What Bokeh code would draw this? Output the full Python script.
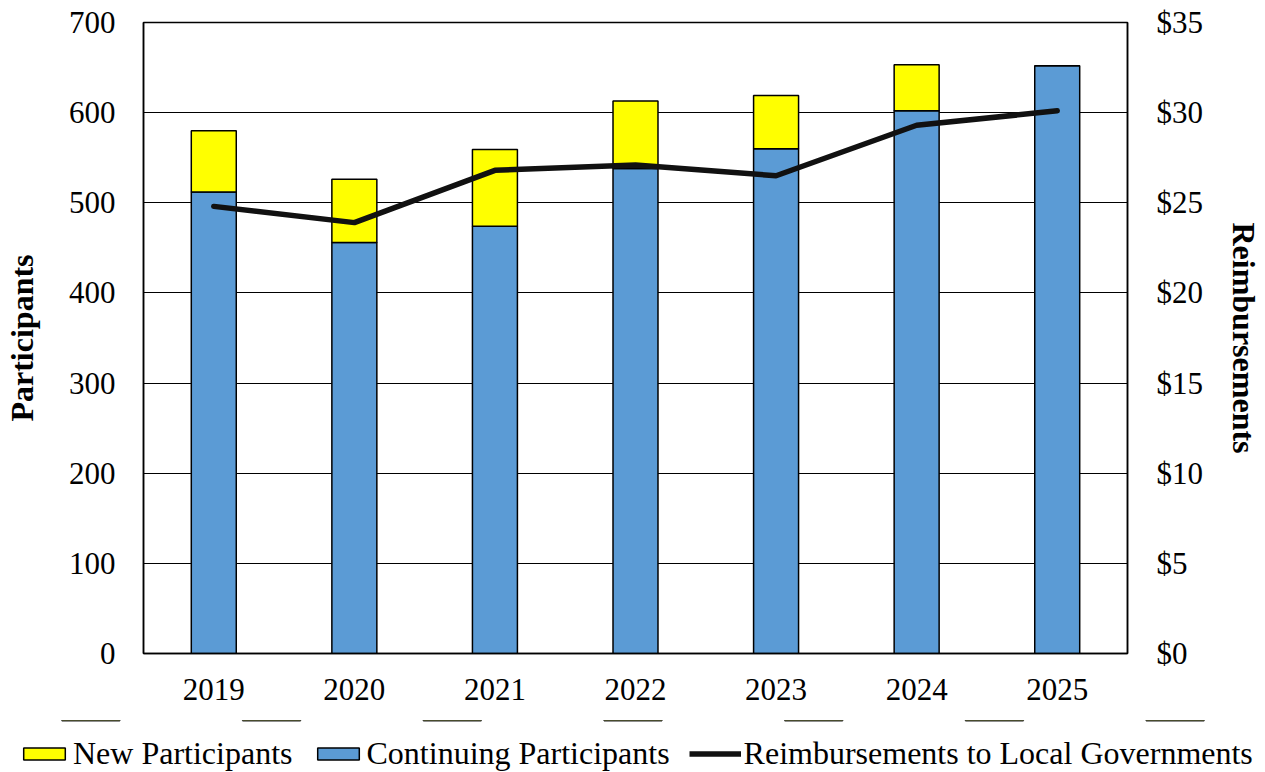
from bokeh.plotting import figure
from bokeh.models import (ColumnDataSource, FactorRange, Range1d, LinearAxis,
                          FixedTicker, PrintfTickFormatter, Legend, LegendItem)
from bokeh.embed import file_html
from bokeh.resources import INLINE

years = ["2019", "2020", "2021", "2022", "2023", "2024", "2025"]
continuing = [512, 456, 474, 538, 560, 602, 652]
new = [68, 70, 85, 75, 59, 51, 0]
reimbursements = [24.8, 23.9, 26.8, 27.1, 26.5, 29.3, 30.1]

left_ticks = [0, 100, 200, 300, 400, 500, 600, 700]
right_ticks = [0, 5, 10, 15, 20, 25, 30, 35]

series_names = ["New Participants", "Continuing Participants",
                "Reimbursements to Local Governments"]

FONT = "Liberation Serif"
BLUE = "#5B9BD5"
YELLOW = "#FFFF00"
LINE = "#111111"

src = ColumnDataSource(dict(years=years, continuing=continuing, new=new,
                            reimb=reimbursements))

p = figure(width=1265, height=720, x_range=FactorRange(*years, range_padding=0),
           y_range=Range1d(0, 700), output_backend="svg", toolbar_location=None,
           min_border_left=143, min_border_right=138, min_border_top=22,
           min_border_bottom=67)
p.extra_y_ranges = {"dollars": Range1d(0, 35)}

bars = p.vbar_stack(["continuing", "new"], x="years", width=0.32, source=src,
                    fill_color=[BLUE, YELLOW], line_color="black",
                    line_width=1.5)
line = p.line(x="years", y="reimb", source=src, y_range_name="dollars",
              line_color=LINE, line_width=5.5, line_cap="round",
              line_join="round")

# Axes
p.yaxis.ticker = FixedTicker(ticks=left_ticks)
p.yaxis.axis_label = "Participants"
ly = p.yaxis[0]
ly.major_tick_out = 0
ly.major_tick_in = 0
ly.minor_tick_out = 0
ly.minor_tick_in = 0
ly.major_label_standoff = 28
ly.axis_label_standoff = 26

right = LinearAxis(y_range_name="dollars", ticker=FixedTicker(ticks=right_ticks),
                   formatter=PrintfTickFormatter(format="$%d"),
                   axis_label="Reimbursements")
right.major_tick_out = 0
right.major_tick_in = 0
right.minor_tick_out = 0
right.minor_tick_in = 0
right.major_label_standoff = 29
right.axis_label_standoff = 20
p.add_layout(right, "right")

p.xaxis.major_tick_out = 0
p.xaxis.major_tick_in = 0
p.xaxis.major_label_standoff = 25

for ax in p.axis:
    ax.axis_line_color = "black"
    ax.axis_line_width = 1.5
    ax.major_label_text_font = FONT
    ax.major_label_text_font_size = "31px"
    ax.major_label_text_color = "black"
    ax.axis_label_text_font = FONT
    ax.axis_label_text_font_size = "32px"
    ax.axis_label_text_font_style = "bold"
    ax.axis_label_text_color = "black"

p.xgrid.grid_line_color = None
p.ygrid.grid_line_color = "black"
p.ygrid.grid_line_width = 1.2
p.ygrid.ticker = FixedTicker(ticks=left_ticks)
p.outline_line_color = "black"
p.outline_line_width = 1.5

# Legend strip below the chart (separate root, no frame alignment);
# its glyphs use the same data but lie far outside its visible range.
lg = figure(width=1265, height=52, output_backend="svg", toolbar_location=None,
            min_border=0, x_axis_type=None, y_axis_type=None,
            x_range=FactorRange(*years), y_range=Range1d(-5000, -4999))
lg.grid.visible = False
lg.outline_line_color = None
lg_bars = lg.vbar_stack(["continuing", "new"], x="years", width=0.32, source=src,
                        fill_color=[BLUE, YELLOW], line_color="black",
                        line_width=1.5)
lg_line = lg.line(x="years", y="reimb", source=src, line_color=LINE,
                  line_width=5.5)

legend = Legend(items=[
    LegendItem(label=series_names[0], renderers=[lg_bars[1]]),
    LegendItem(label=series_names[1], renderers=[lg_bars[0]]),
    LegendItem(label=series_names[2], renderers=[lg_line]),
], orientation="horizontal", location=(18, 0))
legend.label_text_font = FONT
legend.label_text_font_size = "32px"
legend.label_text_color = "black"
legend.glyph_width = 52
legend.glyph_height = 15
legend.label_standoff = 3
legend.spacing = 19
legend.padding = 0
legend.margin = 0
legend.border_line_color = None
legend.background_fill_alpha = 0
lg.add_layout(legend, "center")

open("out.html", "w").write(file_html([p, lg], INLINE))
